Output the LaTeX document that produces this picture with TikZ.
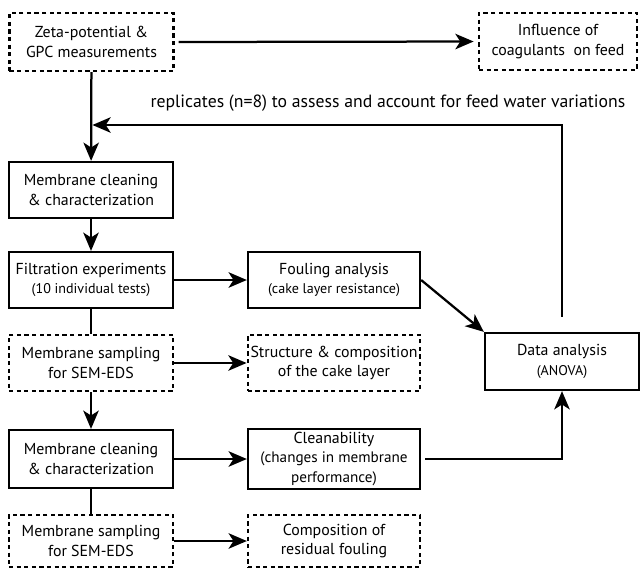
\documentclass[tikz,border=0pt]{standalone}
\usepackage{fontspec}
\setmainfont{PT Sans}
\usepackage{tikz}
\usetikzlibrary{arrows.meta}
\usetikzlibrary{positioning}
\usetikzlibrary{calc}
\tikzstyle{stage}=[draw,line width=1.6pt,align=center,inner sep=2pt,font=\fontsize{11.3}{14}\selectfont]
\tikzstyle{stagedash}=[stage,dash pattern=on 3pt off 2.4pt]
\tikzstyle{colA}=[minimum width=4.1cm]
\tikzstyle{colB}=[minimum width=4.3cm]
\tikzstyle{flow}=[-{Stealth[length=13pt,width=11pt,inset=3.5pt]},line width=1.6pt]
\tikzstyle{link}=[line width=1.6pt]
\newcommand{\smalltxt}[1]{{\fontsize{10}{12}\selectfont #1}}
\newcommand{\midtxt}[1]{{\fontsize{10.8}{13.5}\selectfont #1}}

\begin{document}
\begin{tikzpicture}[x=0.025cm,y=-0.025cm]

  \useasboundingbox (0,0) rectangle (641,568);

  % first row
  \node[stagedash,colA,minimum height=1.45cm] (zeta) at (91.5,42) {Zeta-potential \&\\GPC measurements};
  \node[stagedash,minimum width=3.95cm,minimum height=1.425cm] (infl) at (558,41.5) {Influence of\\coagulants\ \ on feed};

  % left column
  \node[stage,colA,minimum height=1.4cm] (clean1) at (91,190) {Membrane cleaning\\\& characterization};
  \node[stage,colA,minimum height=1.4cm] (filt) at (91,280) {Filtration experiments\\\smalltxt{(10 individual tests)}};
  \node[stagedash,colA,minimum height=1.4cm] (samp1) at (91,363) {Membrane sampling\\for SEM-EDS};
  \node[stage,colA,minimum height=1.45cm] (clean2) at (91,459) {Membrane cleaning\\\& characterization};
  \node[stagedash,colA,minimum height=1.3cm] (samp2) at (91,541) {Membrane sampling\\for SEM-EDS};

  % middle column
  \node[stage,colB,minimum height=1.4cm] (foul) at (334,280) {Fouling analysis\\\smalltxt{(cake layer resistance)}};
  \node[stagedash,colB,minimum height=1.4cm] (struct) at (334,363) {Structure \& composition\\of the cake layer};
  \node[stage,colB,minimum height=1.45cm] (cab) at (334,459) {Cleanability\\\midtxt{(changes in membrane}\\\midtxt{performance)}};
  \node[stagedash,colB,minimum height=1.3cm] (comp) at (334,541) {Composition of\\residual fouling};

  % right
  \node[stage,minimum width=3.85cm,minimum height=1.425cm] (data) at (562,361.5) {Data analysis\\\smalltxt{(ANOVA)}};

  \node[font=\fontsize{12.6}{15}\selectfont] (rep) at (388,103) {replicates (n=8) to assess and account for feed water variations};
  \coordinate (back) at (91,125);

  \foreach \source/\dest in {zeta/clean1, clean1/filt, filt/foul, samp1/struct, samp1/clean2, clean2/cab, samp2/comp}
    \draw[flow] (\source) -- (\dest);

  \foreach \source/\dest in {filt/samp1, clean2/samp2}
    \draw[link] (\source) -- (\dest);

  \draw[flow,shorten >=3pt] (zeta.east) ++(4,0) -- (infl.west);
  \draw[flow] (foul.east) -- (data.north west);
  \draw[flow,shorten >=1pt] (data.north) ++(0,-15) |- (back);
  \draw[flow] (cab.east) ++(4,0) -| (data.south);

\end{tikzpicture}
\end{document}
